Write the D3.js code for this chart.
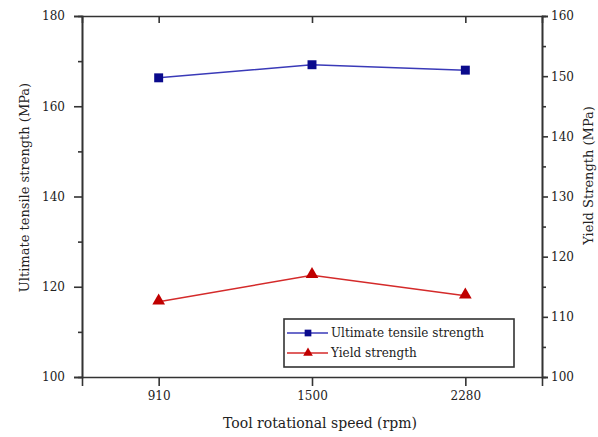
<!DOCTYPE html>
<html>
<head>
<meta charset="utf-8">
<script src="https://cdn.jsdelivr.net/npm/d3@7"></script>
<style>
  body { margin: 0; background: #fff; }
  #chart text { font-family: "DejaVu Serif", "Liberation Serif", serif; fill: #222; }
  .axis path, .axis line { stroke: #333; stroke-width: 1.6px; }
</style>
</head>
<body>
<div id="chart"></div>
<script>
const speeds = ["910", "1500", "2280"];
const utsValues = [166.3, 169.2, 168.0];
const yieldValues = [112.5, 116.9, 113.5];
const leftTicks = [100, 120, 140, 160, 180];
const leftMinor = [110, 130, 150, 170];
const rightTicks = [100, 110, 120, 130, 140, 150, 160];
const rightMinor = [105, 115, 125, 135, 145, 155];

const padding = { top: 16, right: 56, bottom: 60, left: 82 },
      chartWidth = 598 - padding.left - padding.right,
      chartHeight = 437 - padding.top - padding.bottom;

const svg = d3.select("#chart").append("svg")
    .attr("width", 598)
    .attr("height", 437)
  .append("g")
    .attr("transform", `translate(${padding.left},${padding.top})`);

const xScale = d3.scalePoint().domain(speeds).range([0, chartWidth]).padding(0.5),
      yLeft = d3.scaleLinear().domain([100, 180]).range([chartHeight, 0]),
      yRight = d3.scaleLinear().domain([100, 160]).range([chartHeight, 0]);

// frame + axes
svg.append("g").attr("class", "axis")
    .attr("transform", `translate(0,${chartHeight})`)
    .call(d3.axisBottom(xScale).tickSizeOuter(0).tickSize(9).tickPadding(5))
    .selectAll("text").style("font-size", "12px");

svg.append("g").attr("class", "axis")
    .call(d3.axisTop(xScale).tickSizeOuter(0).tickSize(-7).tickFormat(""));

svg.append("g").attr("class", "axis")
    .call(d3.axisLeft(yLeft).tickValues(leftTicks).tickSizeOuter(0).tickSize(8).tickPadding(9))
    .selectAll("text").style("font-size", "12px");

svg.append("g").attr("class", "axis")
    .call(d3.axisLeft(yLeft).tickValues(leftMinor).tickSizeOuter(0).tickSize(4).tickFormat(""));

svg.append("g").attr("class", "axis")
    .attr("transform", `translate(${chartWidth},0)`)
    .call(d3.axisRight(yRight).tickValues(rightTicks).tickSizeOuter(0).tickSize(6).tickPadding(3))
    .selectAll("text").style("font-size", "12px");

svg.append("g").attr("class", "axis")
    .attr("transform", `translate(${chartWidth},0)`)
    .call(d3.axisRight(yRight).tickValues(rightMinor).tickSizeOuter(0).tickSize(4).tickFormat(""));

// axis titles
svg.append("text")
    .attr("x", chartWidth / 2 + 8)
    .attr("y", chartHeight + 51)
    .attr("text-anchor", "middle")
    .style("font-size", "14px")
    .text("Tool rotational speed (rpm)");

svg.append("text")
    .attr("transform", `translate(${-53},${yLeft(142)}) rotate(-90)`)
    .attr("text-anchor", "middle")
    .style("font-size", "13px")
    .text("Ultimate tensile strength (MPa)");

svg.append("text")
    .attr("transform", `translate(${chartWidth + 51},${yRight(133.5)}) rotate(-90)`)
    .attr("text-anchor", "middle")
    .style("font-size", "13px")
    .text("Yield Strength (MPa)");

// series
const utsData = speeds.map((s, i) => ({ s, v: utsValues[i] }));
const yieldData = speeds.map((s, i) => ({ s, v: yieldValues[i] }));

svg.append("path")
    .datum(utsData)
    .attr("fill", "none")
    .attr("stroke", "#3a3ab8")
    .attr("stroke-width", 1.5)
    .attr("d", d3.line().x(d => xScale(d.s)).y(d => yLeft(d.v)));

svg.append("path")
    .datum(yieldData)
    .attr("fill", "none")
    .attr("stroke", "#d42a2a")
    .attr("stroke-width", 1.5)
    .attr("d", d3.line().x(d => xScale(d.s)).y(d => yRight(d.v)));

const square = d3.symbol().type(d3.symbolSquare).size(80);
const triangle = d3.symbol().type(d3.symbolTriangle).size(70);

svg.selectAll(".uts-pt")
    .data(utsData)
    .enter().append("path")
    .attr("class", "uts-pt")
    .attr("transform", d => `translate(${xScale(d.s)},${yLeft(d.v)})`)
    .attr("d", square)
    .attr("fill", "#0a0a8c");

svg.selectAll(".ys-pt")
    .data(yieldData)
    .enter().append("path")
    .attr("class", "ys-pt")
    .attr("transform", d => `translate(${xScale(d.s)},${yRight(d.v) - 1})`)
    .attr("d", triangle)
    .attr("fill", "#c00000");

// legend
const legend = svg.append("g").attr("transform", `translate(${284 - padding.left},${319 - padding.top})`);
legend.append("rect")
    .attr("width", 230).attr("height", 48)
    .attr("fill", "#fff")
    .attr("stroke", "#333").attr("stroke-width", 1.6);

const legendItems = [
    { label: "Ultimate tensile strength", color: "#3a3ab8", mark: "#0a0a8c", sym: d3.symbol().type(d3.symbolSquare).size(45) },
    { label: "Yield strength", color: "#d42a2a", mark: "#c00000", sym: d3.symbol().type(d3.symbolTriangle).size(40) }
];
legendItems.forEach((item, i) => {
    const yy = 14 + i * 20;
    legend.append("line")
        .attr("x1", 3).attr("x2", 44).attr("y1", yy).attr("y2", yy)
        .attr("stroke", item.color).attr("stroke-width", 1.5);
    legend.append("path")
        .attr("transform", `translate(24,${yy})`)
        .attr("d", item.sym)
        .attr("fill", item.mark);
    legend.append("text")
        .attr("x", 47).attr("y", yy)
        .attr("dy", "0.35em")
        .style("font-size", "12px")
        .text(item.label);
});
</script>
</body>
</html>
